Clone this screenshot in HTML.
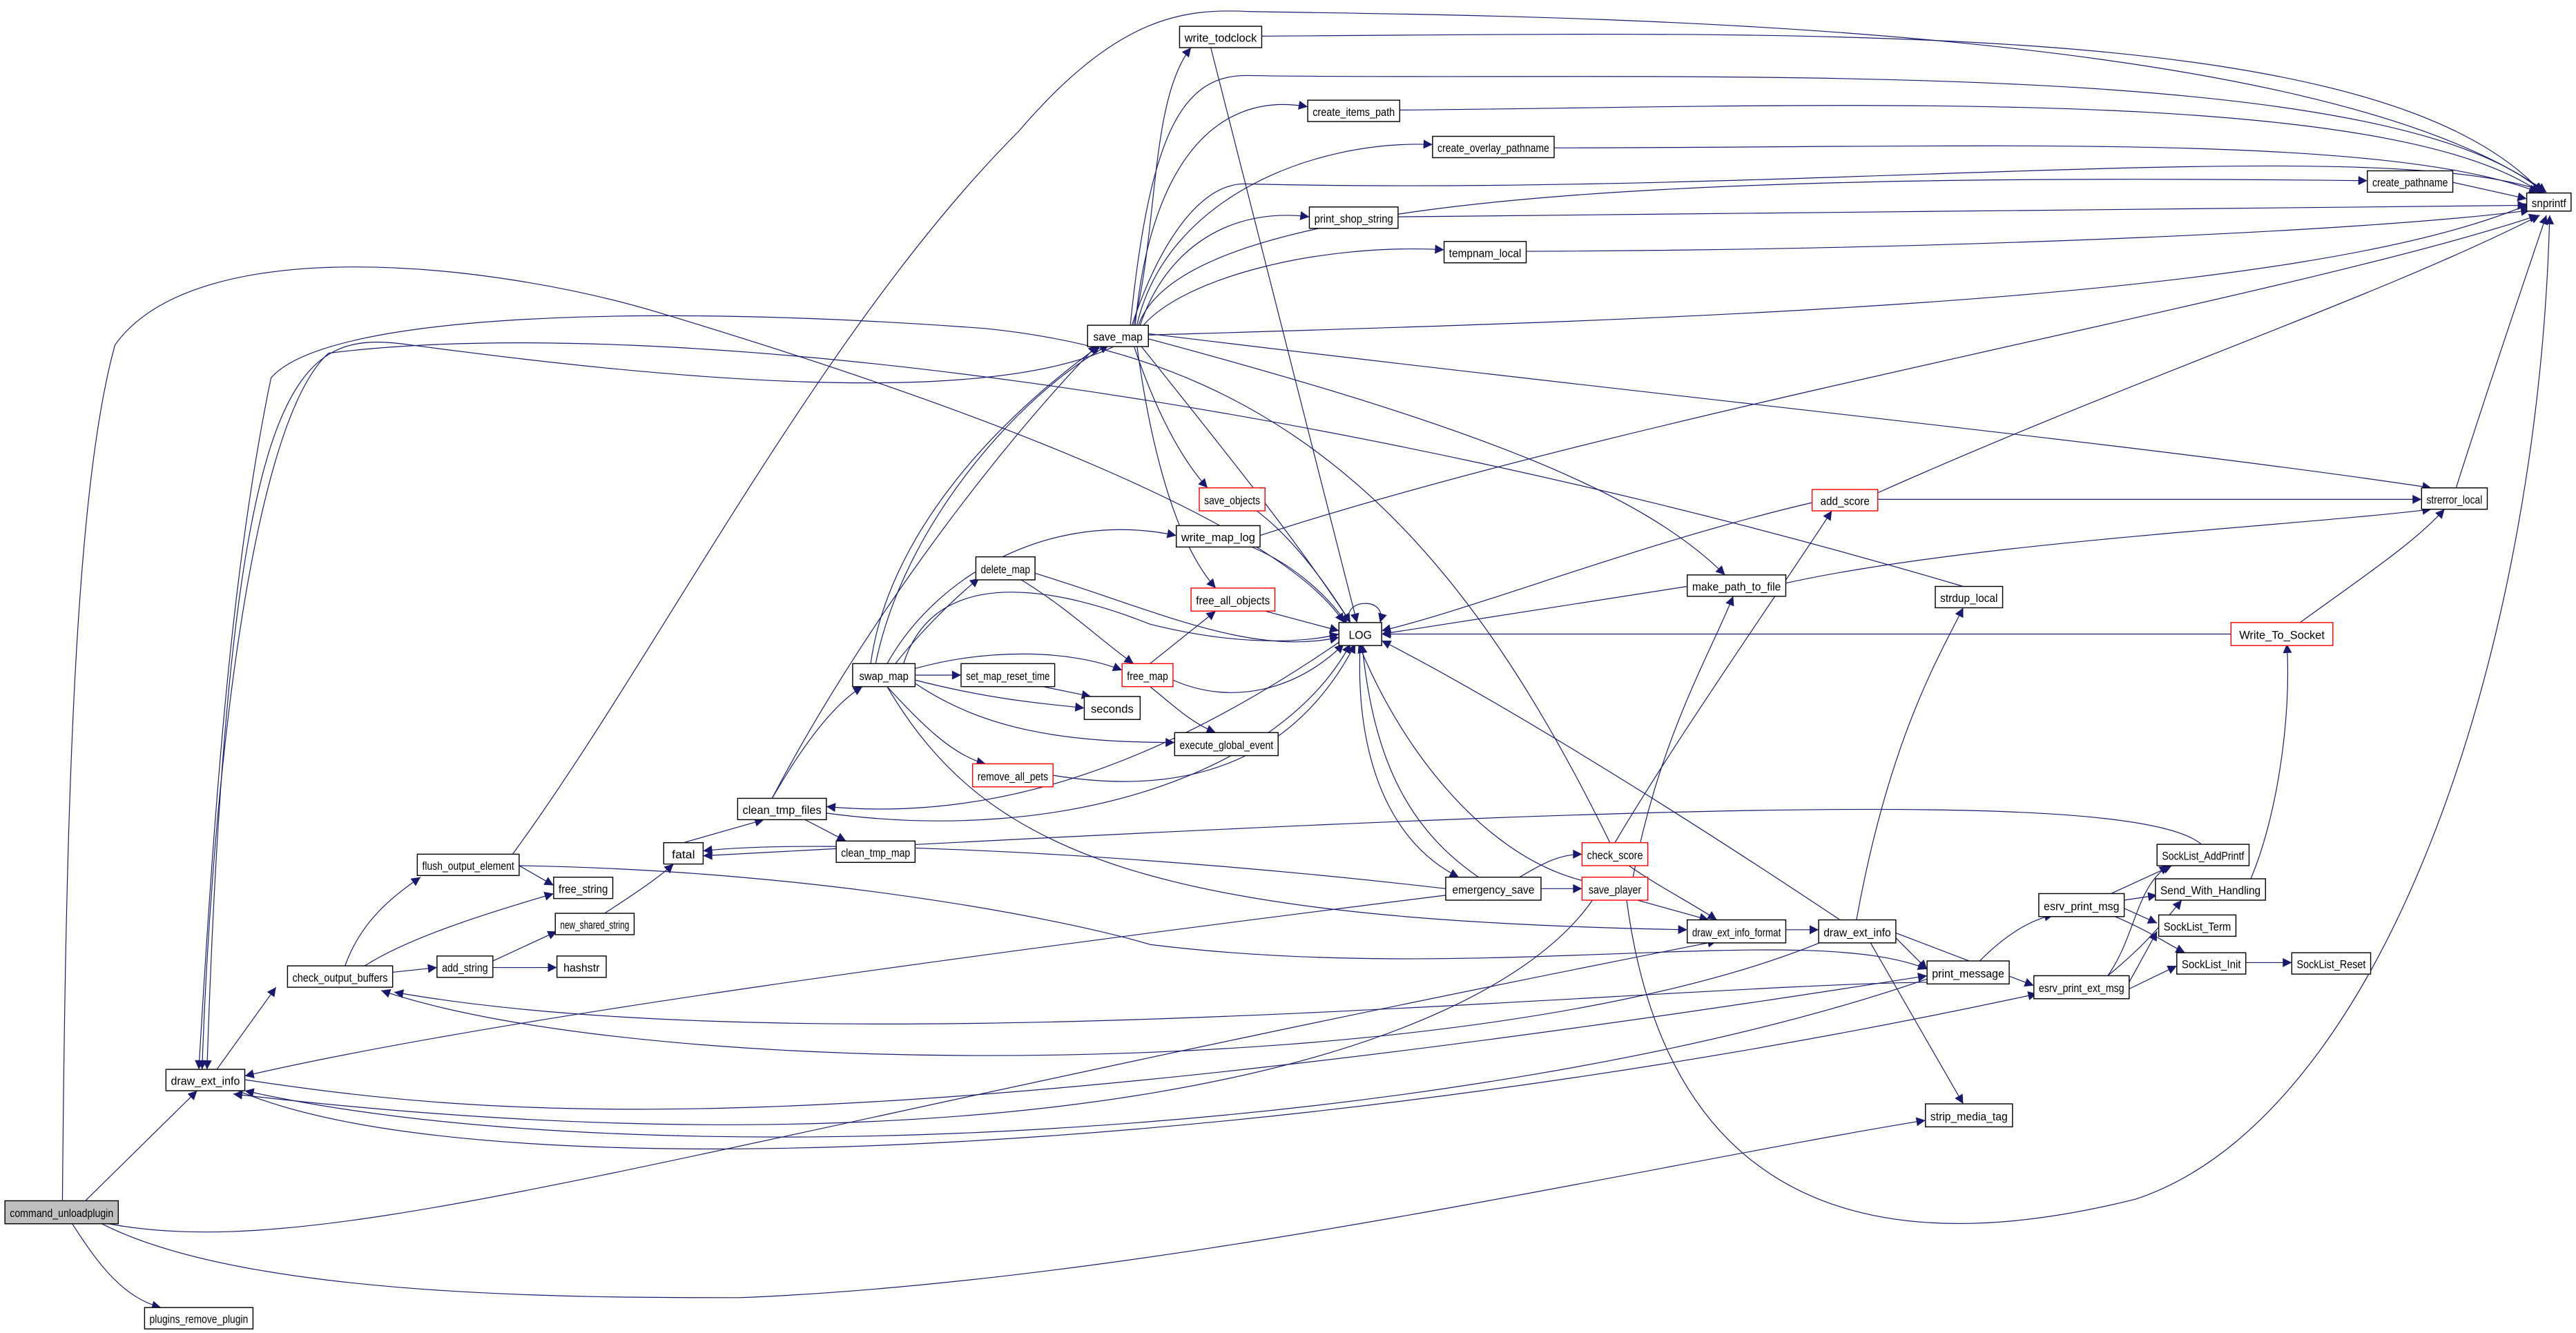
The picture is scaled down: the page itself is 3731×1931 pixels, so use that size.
<!DOCTYPE html>
<html><head><meta charset="utf-8">
<style>
html,body{margin:0;padding:0;background:#fff;}
svg{display:block;}
text{font-family:"Liberation Sans",sans-serif;font-size:7px;fill:#000;}
.e{fill:none;stroke:#191970;stroke-width:0.5;}
.n{fill:#fff;stroke:#000;stroke-width:0.6;}
.r{fill:#fff;stroke:#ff0000;stroke-width:0.6;}
</style></head>
<body>
<svg width="3731" height="1931" viewBox="0 0 1568 811.5" preserveAspectRatio="none" xmlns="http://www.w3.org/2000/svg">
<defs>
<marker id="a" viewBox="0 0 10 10" refX="10" refY="5" markerWidth="7.5" markerHeight="5.5" markerUnits="userSpaceOnUse" orient="auto">
<path d="M0,0 L10,5 L0,10 z" fill="#191970"/>
</marker>
</defs>
<rect width="1568" height="811.5" fill="#fff"/>
<g class="e" marker-end="url(#a)">
<!-- command_unloadplugin -->
<path d="M52,731 L120,664"/>
<path d="M44,745 C60,770 75,790 98,796"/>
<path d="M62,745 C150,790 350,790 450,790 C700,780 1000,710 1172,682"/>
<path d="M38,731 C40,500 45,300 70,210 C120,140 300,160 400,190 C600,250 780,320 818,379"/>
<path d="M66,745 C200,770 400,700 1045,573"/>
<!-- draw_ext_info L -->
<path d="M132,651 L168,601"/>
<path d="M147,657 C300,680 500,700 1173,594"/>
<path d="M145,664 C300,730 800,700 1240,605"/>
<path d="M680,210 C600,250 400,230 250,210 C180,200 140,220 126,651"/>
<path d="M1195,357 C800,240 400,190 200,215 C150,260 128,500 123,651"/>
<path d="M980,513 C900,350 800,220 600,200 C400,185 200,190 165,230 C140,350 130,500 121,651"/>
<path d="M880,545 C600,580 300,620 149,655"/>
<path d="M1173,596 C900,690 400,720 149,664"/>
<path d="M970,547 C900,650 600,720 142,666"/>
<!-- check_output_buffers -->
<path d="M210,588 C220,560 240,545 256,534"/>
<path d="M222,588 C250,570 300,555 337,544"/>
<path d="M238,592 L266,589"/>
<path d="M1173,598 C1000,600 500,650 240,604"/>
<path d="M1110,573 C900,660 400,660 232,603"/>
<path d="M300,585 L339,567"/>
<path d="M300,589 L339,589"/>
<!-- flush_output_element -->
<path d="M316,527 L337,539"/>
<path d="M312,520 C400,400 500,200 620,80 C680,10 720,5 760,7 C900,10 1400,8 1550,117"/>
<path d="M316,527 C500,530 650,560 700,575 C900,600 1100,560 1173,590"/>
<path d="M368,556 C385,545 400,535 410,526"/>
<path d="M416,513 L465,499"/>
<path d="M880,541 C700,520 500,510 428,518"/>
<path d="M1340,514 C1300,480 1000,490 428,521"/>
<!-- clean_tmp_files -->
<path d="M470,486 C485,460 505,430 525,418"/>
<path d="M490,499 L515,512"/>
<path d="M470,486 C520,390 600,280 668,210"/>
<path d="M503,495 C650,515 780,470 822,392"/>
<path d="M815,391 C700,470 600,500 503,491"/>
<!-- swap_map -->
<path d="M530,404 C540,330 600,260 670,210"/>
<path d="M533,404 C550,320 620,240 675,210"/>
<path d="M540,404 C570,350 640,310 716,326"/>
<path d="M545,404 C560,385 580,365 596,352"/>
<path d="M557,407 C600,395 650,395 683,408"/>
<path d="M557,411 L585,411"/>
<path d="M557,414 C600,425 630,428 660,431"/>
<path d="M557,416 C600,445 650,452 715,452"/>
<path d="M540,418 C560,440 580,460 600,465"/>
<path d="M550,404 C570,340 650,360 700,380 C760,395 800,390 815,386"/>
<path d="M540,418 C600,520 700,560 1027,566"/>
<path d="M630,417 L664,424"/>
<path d="M620,352 C650,370 670,390 690,404"/>
<path d="M630,349 C700,370 760,400 815,388"/>
<path d="M700,404 L740,372"/>
<path d="M714,414 C750,430 790,420 818,392"/>
<path d="M700,418 C715,430 725,440 740,446"/>
<path d="M641,472 C750,490 800,440 825,392"/>
<!-- save_map up -->
<path d="M690,198 C705,140 700,60 725,29"/>
<path d="M691,198 C700,100 740,55 796,65"/>
<path d="M692,198 C710,120 800,85 872,88"/>
<path d="M693,198 C720,120 1000,105 1441,110"/>
<path d="M694,198 C710,150 750,126 797,132"/>
<path d="M696,198 C720,170 800,148 879,152"/>
<path d="M688,198 C700,80 720,45 760,46 C1000,50 1450,30 1548,117"/>
<path d="M689,198 C705,150 730,110 760,112 C1100,120 1450,80 1550,117"/>
<path d="M698,204 C1000,195 1400,185 1540,124"/>
<path d="M690,210 C700,240 715,275 735,297"/>
<path d="M692,210 C700,270 715,330 740,358"/>
<path d="M694,210 C750,280 790,330 822,379"/>
<path d="M698,206 C900,260 1000,300 1050,350"/>
<path d="M698,203 C1000,240 1300,270 1480,297"/>
<path d="M768,22 C1100,20 1450,10 1547,117"/>
<path d="M852,67 C1100,65 1450,50 1546,117"/>
<path d="M946,90 C1200,90 1450,80 1545,117"/>
<path d="M1493,111 L1538,121"/>
<path d="M851,132 C1200,130 1450,125 1538,125"/>
<path d="M929,153 C1200,152 1450,140 1540,128"/>
<path d="M737,29 L826,379"/>
<path d="M765,311 C790,330 810,360 822,379"/>
<path d="M762,333 C790,345 810,365 820,380"/>
<path d="M767,326 C1000,250 1400,180 1545,131"/>
<path d="M770,372 L815,384"/>
<path d="M822,379 C815,365 845,362 840,379"/>
<path d="M828,392 C825,450 840,510 888,534"/>
<path d="M900,534 C850,500 835,450 829,392"/>
<path d="M1027,357 L841,386"/>
<path d="M1087,355 C1200,330 1400,320 1480,310"/>
<path d="M1103,306 C1000,330 900,370 841,384"/>
<path d="M1143,300 C1300,230 1450,180 1546,131"/>
<path d="M1143,304 L1474,304"/>
<path d="M1495,297 C1510,250 1530,190 1550,131"/>
<path d="M1358,386 L841,386"/>
<path d="M1400,379 C1440,350 1470,330 1488,310"/>
<path d="M983,513 C1020,450 1090,350 1115,311"/>
<path d="M990,526 C1010,540 1030,550 1045,560"/>
<path d="M994,534 C1010,450 1040,400 1055,363"/>
<path d="M993,547 L1040,560"/>
<path d="M963,536 C900,520 850,450 827,392"/>
<path d="M990,547 C1010,700 1100,780 1300,730 C1450,680 1545,400 1552,131"/>
<path d="M938,541 L963,541"/>
<path d="M925,534 C940,525 950,520 963,520"/>
<path d="M1087,566 L1107,566"/>
<path d="M1120,560 C1000,480 900,420 841,390"/>
<path d="M1130,560 C1150,450 1180,400 1195,370"/>
<path d="M1154,571 L1173,590"/>
<path d="M1138,573 L1195,672"/>
<path d="M1154,568 L1238,600"/>
<path d="M1205,585 C1220,570 1235,560 1250,557"/>
<path d="M1285,544 L1322,527"/>
<path d="M1293,548 L1313,545"/>
<path d="M1293,553 L1313,562"/>
<path d="M1285,557 C1305,565 1320,575 1330,580"/>
<path d="M1283,594 C1300,570 1300,540 1320,527"/>
<path d="M1283,594 C1300,580 1310,570 1328,548"/>
<path d="M1296,598 L1313,567"/>
<path d="M1296,602 L1325,588"/>
<path d="M1370,535 C1385,500 1395,440 1392,392"/>
<path d="M1367,586 L1395,586"/>
</g>
<g>
<rect class="n" x="3" y="731" width="69" height="14" style="fill:#bfbfbf"/><text x="37.5" y="741" text-anchor="middle" textLength="63" lengthAdjust="spacingAndGlyphs">command_unloadplugin</text>
<rect class="n" x="88" y="796" width="66" height="13"/><text x="121" y="805.5" text-anchor="middle" textLength="60" lengthAdjust="spacingAndGlyphs">plugins_remove_plugin</text>
<rect class="n" x="101" y="651" width="48" height="13"/><text x="125" y="660.5" text-anchor="middle" textLength="42" lengthAdjust="spacingAndGlyphs">draw_ext_info</text>
<rect class="n" x="175" y="588" width="64" height="13"/><text x="207" y="597.5" text-anchor="middle" textLength="58" lengthAdjust="spacingAndGlyphs">check_output_buffers</text>
<rect class="n" x="254" y="520" width="62" height="13"/><text x="285" y="529.5" text-anchor="middle" textLength="56" lengthAdjust="spacingAndGlyphs">flush_output_element</text>
<rect class="n" x="337" y="534" width="36" height="13"/><text x="355" y="543.5" text-anchor="middle" textLength="30" lengthAdjust="spacingAndGlyphs">free_string</text>
<rect class="n" x="266" y="582" width="34" height="13"/><text x="283" y="591.5" text-anchor="middle" textLength="28" lengthAdjust="spacingAndGlyphs">add_string</text>
<rect class="n" x="338" y="556" width="48" height="13"/><text x="362" y="565.5" text-anchor="middle" textLength="42" lengthAdjust="spacingAndGlyphs">new_shared_string</text>
<rect class="n" x="339" y="582" width="30" height="13"/><text x="354" y="591.5" text-anchor="middle" textLength="22" lengthAdjust="spacingAndGlyphs">hashstr</text>
<rect class="n" x="404" y="513" width="24" height="13"/><text x="416" y="522.5" text-anchor="middle" textLength="14" lengthAdjust="spacingAndGlyphs">fatal</text>
<rect class="n" x="449" y="486" width="54" height="13"/><text x="476" y="495.5" text-anchor="middle" textLength="48" lengthAdjust="spacingAndGlyphs">clean_tmp_files</text>
<rect class="n" x="509" y="512" width="48" height="13"/><text x="533" y="521.5" text-anchor="middle" textLength="42" lengthAdjust="spacingAndGlyphs">clean_tmp_map</text>
<rect class="n" x="519" y="404" width="38" height="14"/><text x="538" y="414" text-anchor="middle" textLength="30" lengthAdjust="spacingAndGlyphs">swap_map</text>
<rect class="n" x="662" y="198" width="37" height="13"/><text x="680.5" y="207.5" text-anchor="middle" textLength="30" lengthAdjust="spacingAndGlyphs">save_map</text>
<rect class="n" x="718" y="16" width="50" height="13"/><text x="743" y="25.5" text-anchor="middle" textLength="44" lengthAdjust="spacingAndGlyphs">write_todclock</text>
<rect class="n" x="796" y="61" width="56" height="13"/><text x="824" y="70.5" text-anchor="middle" textLength="50" lengthAdjust="spacingAndGlyphs">create_items_path</text>
<rect class="n" x="872" y="83" width="74" height="13"/><text x="909" y="92.5" text-anchor="middle" textLength="68" lengthAdjust="spacingAndGlyphs">create_overlay_pathname</text>
<rect class="n" x="1441" y="104" width="52" height="13"/><text x="1467" y="113.5" text-anchor="middle" textLength="46" lengthAdjust="spacingAndGlyphs">create_pathname</text>
<rect class="n" x="1538" y="117.5" width="27" height="11"/><text x="1551.5" y="126" text-anchor="middle" textLength="21" lengthAdjust="spacingAndGlyphs">snprintf</text>
<rect class="n" x="797" y="126" width="54" height="13"/><text x="824" y="135.5" text-anchor="middle" textLength="48" lengthAdjust="spacingAndGlyphs">print_shop_string</text>
<rect class="n" x="879" y="147" width="50" height="13"/><text x="904" y="156.5" text-anchor="middle" textLength="44" lengthAdjust="spacingAndGlyphs">tempnam_local</text>
<rect class="r" x="730" y="297" width="40" height="14"/><text x="750" y="307" text-anchor="middle" textLength="34" lengthAdjust="spacingAndGlyphs">save_objects</text>
<rect class="n" x="716" y="320" width="51" height="13"/><text x="741.5" y="329.5" text-anchor="middle" textLength="45" lengthAdjust="spacingAndGlyphs">write_map_log</text>
<rect class="r" x="725" y="358" width="51" height="14"/><text x="750.5" y="368" text-anchor="middle" textLength="45" lengthAdjust="spacingAndGlyphs">free_all_objects</text>
<rect class="n" x="815" y="379" width="26" height="14"/><text x="828" y="389" text-anchor="middle" textLength="14" lengthAdjust="spacingAndGlyphs">LOG</text>
<rect class="n" x="594" y="339" width="36" height="14"/><text x="612" y="349" text-anchor="middle" textLength="30" lengthAdjust="spacingAndGlyphs">delete_map</text>
<rect class="r" x="683" y="404" width="31" height="14"/><text x="698.5" y="414" text-anchor="middle" textLength="25" lengthAdjust="spacingAndGlyphs">free_map</text>
<rect class="n" x="585" y="404" width="57" height="14"/><text x="613.5" y="414" text-anchor="middle" textLength="51" lengthAdjust="spacingAndGlyphs">set_map_reset_time</text>
<rect class="n" x="660" y="424" width="34" height="14"/><text x="677" y="434" text-anchor="middle" textLength="26" lengthAdjust="spacingAndGlyphs">seconds</text>
<rect class="n" x="715" y="446" width="63" height="14"/><text x="746.5" y="456" text-anchor="middle" textLength="57" lengthAdjust="spacingAndGlyphs">execute_global_event</text>
<rect class="r" x="592" y="465" width="49" height="14"/><text x="616.5" y="475" text-anchor="middle" textLength="43" lengthAdjust="spacingAndGlyphs">remove_all_pets</text>
<rect class="n" x="1027" y="350" width="60" height="13"/><text x="1057" y="359.5" text-anchor="middle" textLength="54" lengthAdjust="spacingAndGlyphs">make_path_to_file</text>
<rect class="n" x="1178" y="357" width="41" height="13"/><text x="1198.5" y="366.5" text-anchor="middle" textLength="35" lengthAdjust="spacingAndGlyphs">strdup_local</text>
<rect class="r" x="1103" y="298" width="40" height="13"/><text x="1123" y="307.5" text-anchor="middle" textLength="30" lengthAdjust="spacingAndGlyphs">add_score</text>
<rect class="n" x="1474" y="297" width="40" height="13"/><text x="1494" y="306.5" text-anchor="middle" textLength="34" lengthAdjust="spacingAndGlyphs">strerror_local</text>
<rect class="r" x="1358" y="379" width="62" height="14"/><text x="1389" y="389" text-anchor="middle" textLength="52" lengthAdjust="spacingAndGlyphs">Write_To_Socket</text>
<rect class="r" x="963" y="513" width="40" height="14"/><text x="983" y="523" text-anchor="middle" textLength="34" lengthAdjust="spacingAndGlyphs">check_score</text>
<rect class="r" x="963" y="534" width="40" height="14"/><text x="983" y="544" text-anchor="middle" textLength="32" lengthAdjust="spacingAndGlyphs">save_player</text>
<rect class="n" x="880" y="534" width="58" height="14"/><text x="909" y="544" text-anchor="middle" textLength="50" lengthAdjust="spacingAndGlyphs">emergency_save</text>
<rect class="n" x="1027" y="560" width="60" height="14"/><text x="1057" y="570" text-anchor="middle" textLength="54" lengthAdjust="spacingAndGlyphs">draw_ext_info_format</text>
<rect class="n" x="1107" y="560" width="47" height="14"/><text x="1130.5" y="570" text-anchor="middle" textLength="41" lengthAdjust="spacingAndGlyphs">draw_ext_info</text>
<rect class="n" x="1173" y="585" width="50" height="14"/><text x="1198" y="595" text-anchor="middle" textLength="44" lengthAdjust="spacingAndGlyphs">print_message</text>
<rect class="n" x="1172" y="672" width="53" height="14"/><text x="1198.5" y="682" text-anchor="middle" textLength="47" lengthAdjust="spacingAndGlyphs">strip_media_tag</text>
<rect class="n" x="1241" y="544" width="52" height="14"/><text x="1267" y="554" text-anchor="middle" textLength="46" lengthAdjust="spacingAndGlyphs">esrv_print_msg</text>
<rect class="n" x="1238" y="594" width="58" height="14"/><text x="1267" y="604" text-anchor="middle" textLength="52" lengthAdjust="spacingAndGlyphs">esrv_print_ext_msg</text>
<rect class="n" x="1313" y="514" width="56" height="13"/><text x="1341" y="523.5" text-anchor="middle" textLength="50" lengthAdjust="spacingAndGlyphs">SockList_AddPrintf</text>
<rect class="n" x="1312" y="535" width="67" height="13"/><text x="1345.5" y="544.5" text-anchor="middle" textLength="61" lengthAdjust="spacingAndGlyphs">Send_With_Handling</text>
<rect class="n" x="1314" y="557" width="47" height="13"/><text x="1337.5" y="566.5" text-anchor="middle" textLength="41" lengthAdjust="spacingAndGlyphs">SockList_Term</text>
<rect class="n" x="1325" y="580" width="42" height="13"/><text x="1346" y="589.5" text-anchor="middle" textLength="36" lengthAdjust="spacingAndGlyphs">SockList_Init</text>
<rect class="n" x="1395" y="580" width="48" height="13"/><text x="1419" y="589.5" text-anchor="middle" textLength="42" lengthAdjust="spacingAndGlyphs">SockList_Reset</text>
</g>
</svg>
</body></html>
